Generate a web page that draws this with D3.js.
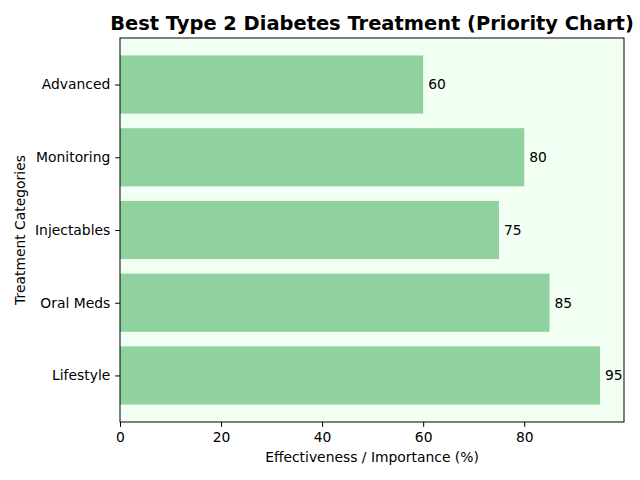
<!DOCTYPE html>
<html>
<head>
<meta charset="utf-8">
<script src="https://cdn.jsdelivr.net/npm/d3@7"></script>
<style>
  body { margin: 0; background: #fff; }
  svg { font-family: "DejaVu Sans", sans-serif; }
</style>
</head>
<body>
<svg id="chart" width="640" height="480"></svg>
<script>
const categories = ["Lifestyle", "Oral Meds", "Injectables", "Monitoring", "Advanced"];
const values = [95, 85, 75, 80, 60];
const xTicks = [0, 20, 40, 60, 80];

const width = 640, height = 480;
const margin = { left: 120, right: 16, top: 38, bottom: 58 };
const svg = d3.select("#chart");

const innerW = width - margin.left - margin.right;
const innerH = height - margin.top - margin.bottom;
const fs = 13.89;

const data = categories.map((c, i) => ({ cat: c, value: values[i], idx: i }));

// matplotlib-like padding: bars 0.8 tall, 5% margins
const yMin = -0.4 - 0.24, yMax = categories.length - 1 + 0.4 + 0.24;
const mapY = d3.scaleLinear().domain([yMin, yMax]).range([innerH, 0]);
const mapX = d3.scaleLinear().domain([0, d3.max(values) * 1.05]).range([0, innerW]);

const g = svg.append("g").attr("transform", `translate(${margin.left}, ${margin.top})`);

g.append("rect")
    .attr("width", innerW)
    .attr("height", innerH)
    .attr("fill", "#f2fff3");

g.selectAll(".bar")
    .data(data)
    .enter()
    .append("rect")
    .attr("class", "bar")
    .attr("x", 0)
    .attr("y", (d) => mapY(d.idx + 0.4))
    .attr("width", (d) => mapX(d.value))
    .attr("height", mapY(0) - mapY(0.8))
    .attr("fill", "#8fd19f");

g.selectAll(".val")
    .data(data)
    .enter()
    .append("text")
    .attr("class", "val")
    .attr("x", (d) => mapX(d.value + 1))
    .attr("y", (d) => mapY(d.idx))
    .attr("dy", "0.35em")
    .style("font-size", fs + "px")
    .text((d) => d.value);

function styleAxis(a) {
    a.attr("font-family", "DejaVu Sans").attr("font-size", fs);
    a.select(".domain").remove();
    a.selectAll("text").attr("fill", "#000");
    a.selectAll("line").attr("stroke", "#000");
}

const xAxis = d3.axisBottom(mapX).tickValues(xTicks).tickSize(4.86).tickPadding(4.86);
g.append("g")
    .attr("transform", `translate(0, ${innerH})`)
    .call(xAxis)
    .call(styleAxis);

const yAxis = d3.axisLeft(mapY)
    .tickValues(d3.range(categories.length))
    .tickFormat((i) => categories[i])
    .tickSize(4.86)
    .tickPadding(4.86);
g.append("g")
    .call(yAxis)
    .call(styleAxis);

g.append("rect")
    .attr("width", innerW)
    .attr("height", innerH)
    .attr("fill", "none")
    .attr("stroke", "#000")
    .attr("stroke-width", 1);

svg.append("text")
    .attr("x", margin.left + innerW / 2)
    .attr("y", 30)
    .style("text-anchor", "middle")
    .style("font-size", "19.44px")
    .style("font-weight", "bold")
    .text("Best Type 2 Diabetes Treatment (Priority Chart)");

svg.append("text")
    .attr("x", margin.left + innerW / 2)
    .attr("y", 462)
    .style("text-anchor", "middle")
    .style("font-size", fs + "px")
    .text("Effectiveness / Importance (%)");

svg.append("text")
    .attr("transform", `translate(25, ${margin.top + innerH / 2}) rotate(-90)`)
    .style("text-anchor", "middle")
    .style("font-size", fs + "px")
    .text("Treatment Categories");
</script>
</body>
</html>
